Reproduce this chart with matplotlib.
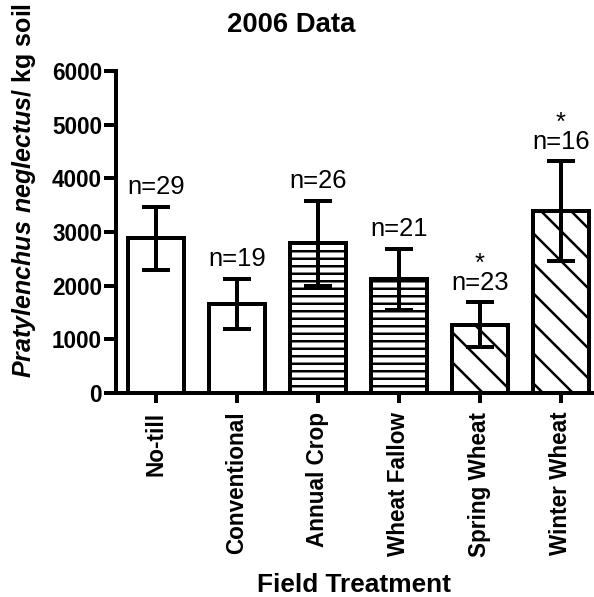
import matplotlib
matplotlib.use("Agg")
import matplotlib.pyplot as plt

treatments = ["No-till", "Conventional", "Annual Crop", "Wheat Fallow",
              "Spring Wheat", "Winter Wheat"]
means = [2880, 1660, 2790, 2120, 1270, 3390]
errors = [590, 470, 795, 570, 420, 930]
counts = [29, 19, 26, 21, 23, 16]
significant = [False, False, False, False, True, True]
hatches = ["", "", "--", "--", "\\", "\\"]

plt.rcParams["font.family"] = "Liberation Sans"
plt.rcParams["mathtext.fontset"] = "custom"
plt.rcParams["mathtext.rm"] = "Liberation Sans:bold"
plt.rcParams["mathtext.bfit"] = "Liberation Sans:italic:bold"
plt.rcParams["hatch.linewidth"] = 2.0
plt.rcParams["hatch.color"] = "black"

lw = 3.2
fig = plt.figure(figsize=(6.6, 597 / 90), dpi=90)
ax = fig.add_axes([0.195, 0.3417, 0.803, 0.5393])

x = list(range(len(treatments)))
ax.bar(x, means, width=0.69, color="white", edgecolor="black",
       linewidth=lw, hatch=hatches, zorder=2)
ax.errorbar(x, means, yerr=errors, fmt="none", ecolor="black",
            elinewidth=lw, capsize=11, capthick=lw, zorder=3)

# n labels, with the significance star as a first line where needed
for xi, m, e, n, s in zip(x, means, errors, counts, significant):
    label = f"*\nn={n}" if s else f"n={n}"
    ax.annotate(label, (xi, m + e), xytext=(0, 10), textcoords="offset points",
                ha="center", va="baseline", multialignment="center",
                linespacing=0.72, fontsize=20.5)

ax.set_xlim(-0.494, 5.395)
ax.set_ylim(0, 6000)
ax.set_yticks(range(0, 6001, 1000))
ax.set_xticks(x)
ax.set_xticklabels(treatments, rotation=90, fontsize=18, fontweight="bold")
for lab in ax.get_yticklabels():
    lab.set_fontsize(18)
    lab.set_fontweight("bold")

ax.spines["top"].set_visible(False)
ax.spines["right"].set_visible(False)
ax.spines["left"].set_linewidth(lw)
ax.spines["bottom"].set_linewidth(lw)
ax.tick_params(axis="y", length=10, width=lw, pad=1)
ax.tick_params(axis="x", length=8, width=lw, pad=7)

ax.set_ylabel(r"$\mathbfit{Pratylenchus\ neglectus}$/ kg soil",
              fontsize=20, fontweight="bold")
ax.yaxis.set_label_coords(-0.164, 0.63)
ax.set_xlabel("Field Treatment", fontsize=21, fontweight="bold")
ax.xaxis.set_label_coords(0.5, -0.559)

fig.text(0.49, 0.946, "2006 Data", ha="center", va="baseline",
         fontsize=22, fontweight="bold")

fig.savefig("out.png", dpi=90)
